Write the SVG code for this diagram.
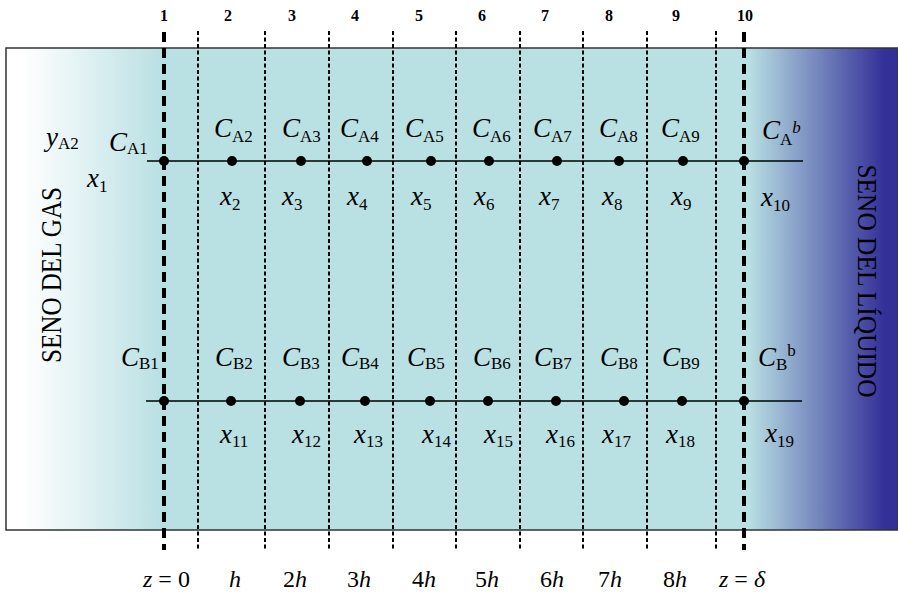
<svg xmlns="http://www.w3.org/2000/svg" width="898" height="595" viewBox="0 0 898 595">
<defs>
<linearGradient id="bg" gradientUnits="userSpaceOnUse" x1="6" y1="0" x2="898" y2="0">
<stop offset="0" stop-color="#ffffff"/>
<stop offset="0.02" stop-color="#ffffff"/>
<stop offset="0.175" stop-color="#b9e0e3"/>
<stop offset="0.832" stop-color="#b9e0e3"/>
<stop offset="0.985" stop-color="#333098"/>
<stop offset="1" stop-color="#333098"/>
</linearGradient>
</defs>
<style>
text{font-family:"Liberation Serif","Times New Roman",serif;fill:#000}
.i{font-style:italic}
.L{font-size:27px}
.s{font-size:17px;font-style:normal}
.num{font-size:16px;font-weight:bold;text-anchor:middle}
.bot{font-size:24px}
.big{font-size:27px}
.thick{stroke:#000;stroke-width:4;stroke-dasharray:10 6;fill:none}
.thin{stroke:#000;stroke-width:2;stroke-dasharray:4 2.5;fill:none}
.h{stroke:#000;stroke-width:1.3;fill:none}
.dot{fill:#000}
</style>
<rect x="6" y="48" width="892" height="482" fill="url(#bg)" stroke="#333" stroke-width="1.5"/>

<g id="vtext">
<text class="big" transform="translate(61,275) rotate(-90) scale(1,1.1)" text-anchor="middle" textLength="176" lengthAdjust="spacingAndGlyphs">SENO DEL GAS</text>
<text class="big" transform="translate(858,281) rotate(90) scale(1,1.05)" text-anchor="middle" textLength="233" lengthAdjust="spacingAndGlyphs">SENO DEL LÍQUIDO</text>
</g>

<g id="gridlines">
<line class="thick" x1="164" y1="32" x2="164" y2="550"/>
<line class="thick" x1="744" y1="32" x2="744" y2="550"/>
<line class="thin" x1="198" y1="31" x2="198" y2="551"/>
<line class="thin" x1="265" y1="31" x2="265" y2="551"/>
<line class="thin" x1="329" y1="31" x2="329" y2="551"/>
<line class="thin" x1="393" y1="31" x2="393" y2="551"/>
<line class="thin" x1="456" y1="31" x2="456" y2="551"/>
<line class="thin" x1="520" y1="31" x2="520" y2="551"/>
<line class="thin" x1="583" y1="31" x2="583" y2="551"/>
<line class="thin" x1="647" y1="31" x2="647" y2="551"/>
<line class="thin" x1="716" y1="31" x2="716" y2="551"/>
</g>

<g id="numbers">
<text class="num" x="164" y="21">1</text>
<text class="num" x="228" y="21">2</text>
<text class="num" x="292" y="21">3</text>
<text class="num" x="355" y="21">4</text>
<text class="num" x="419" y="21">5</text>
<text class="num" x="482" y="21">6</text>
<text class="num" x="545" y="21">7</text>
<text class="num" x="609" y="21">8</text>
<text class="num" x="676" y="21">9</text>
<text class="num" x="745" y="21">10</text>
</g>

<g id="connectors">
<line class="h" x1="147" y1="161" x2="803" y2="161"/>
<line class="h" x1="146" y1="401" x2="802" y2="401"/>
</g>

<g id="gas">
<text class="L" x="46" y="146"><tspan class="i">y</tspan><tspan class="s" dy="3">A2</tspan></text>
<text class="L" x="87" y="187"><tspan class="i">x</tspan><tspan class="s" dy="5">1</tspan></text>
</g>

<g id="nA1"><circle class="dot" cx="164" cy="161" r="5"/>
<text class="L" x="109" y="151"><tspan class="i">C</tspan><tspan class="s" dy="3">A1</tspan></text></g>
<g id="nA2"><circle class="dot" cx="232" cy="161" r="5"/>
<text class="L" x="214" y="137"><tspan class="i">C</tspan><tspan class="s" dy="5">A2</tspan></text>
<text class="L" x="220" y="205"><tspan class="i">x</tspan><tspan class="s" dy="5">2</tspan></text></g>
<g id="nA3"><circle class="dot" cx="301" cy="161" r="5"/>
<text class="L" x="282" y="137"><tspan class="i">C</tspan><tspan class="s" dy="5">A3</tspan></text>
<text class="L" x="282" y="205"><tspan class="i">x</tspan><tspan class="s" dy="5">3</tspan></text></g>
<g id="nA4"><circle class="dot" cx="367" cy="161" r="5"/>
<text class="L" x="340" y="137"><tspan class="i">C</tspan><tspan class="s" dy="5">A4</tspan></text>
<text class="L" x="347" y="205"><tspan class="i">x</tspan><tspan class="s" dy="5">4</tspan></text></g>
<g id="nA5"><circle class="dot" cx="431" cy="161" r="5"/>
<text class="L" x="405" y="137"><tspan class="i">C</tspan><tspan class="s" dy="5">A5</tspan></text>
<text class="L" x="411" y="205"><tspan class="i">x</tspan><tspan class="s" dy="5">5</tspan></text></g>
<g id="nA6"><circle class="dot" cx="489" cy="161" r="5"/>
<text class="L" x="472" y="137"><tspan class="i">C</tspan><tspan class="s" dy="5">A6</tspan></text>
<text class="L" x="474" y="205"><tspan class="i">x</tspan><tspan class="s" dy="5">6</tspan></text></g>
<g id="nA7"><circle class="dot" cx="557" cy="161" r="5"/>
<text class="L" x="533" y="137"><tspan class="i">C</tspan><tspan class="s" dy="5">A7</tspan></text>
<text class="L" x="539" y="205"><tspan class="i">x</tspan><tspan class="s" dy="5">7</tspan></text></g>
<g id="nA8"><circle class="dot" cx="619" cy="161" r="5"/>
<text class="L" x="599" y="137"><tspan class="i">C</tspan><tspan class="s" dy="5">A8</tspan></text>
<text class="L" x="602" y="205"><tspan class="i">x</tspan><tspan class="s" dy="5">8</tspan></text></g>
<g id="nA9"><circle class="dot" cx="683" cy="161" r="5"/>
<text class="L" x="661" y="137"><tspan class="i">C</tspan><tspan class="s" dy="5">A9</tspan></text>
<text class="L" x="671" y="205"><tspan class="i">x</tspan><tspan class="s" dy="5">9</tspan></text></g>
<g id="nA10"><circle class="dot" cx="744" cy="161" r="5"/>
<text class="L" x="762" y="139"><tspan class="i">C</tspan><tspan class="s" dy="6">A</tspan><tspan class="s" dy="-12" style="font-style:italic">b</tspan></text>
<text class="L" x="761" y="206"><tspan class="i">x</tspan><tspan class="s" dy="5">10</tspan></text></g>

<g id="nB1"><circle class="dot" cx="164" cy="401" r="5"/>
<text class="L" x="121" y="366"><tspan class="i">C</tspan><tspan class="s" dy="3">B1</tspan></text></g>
<g id="nB2"><circle class="dot" cx="231" cy="401" r="5"/>
<text class="L" x="215" y="366"><tspan class="i">C</tspan><tspan class="s" dy="3">B2</tspan></text>
<text class="L" x="220" y="443"><tspan class="i">x</tspan><tspan class="s" dy="4">11</tspan></text></g>
<g id="nB3"><circle class="dot" cx="300" cy="401" r="5"/>
<text class="L" x="282" y="366"><tspan class="i">C</tspan><tspan class="s" dy="3">B3</tspan></text>
<text class="L" x="292" y="443"><tspan class="i">x</tspan><tspan class="s" dy="4">12</tspan></text></g>
<g id="nB4"><circle class="dot" cx="365" cy="401" r="5"/>
<text class="L" x="341" y="366"><tspan class="i">C</tspan><tspan class="s" dy="3">B4</tspan></text>
<text class="L" x="354" y="443"><tspan class="i">x</tspan><tspan class="s" dy="4">13</tspan></text></g>
<g id="nB5"><circle class="dot" cx="430" cy="401" r="5"/>
<text class="L" x="407" y="366"><tspan class="i">C</tspan><tspan class="s" dy="3">B5</tspan></text>
<text class="L" x="422" y="443"><tspan class="i">x</tspan><tspan class="s" dy="4">14</tspan></text></g>
<g id="nB6"><circle class="dot" cx="488" cy="401" r="5"/>
<text class="L" x="473" y="366"><tspan class="i">C</tspan><tspan class="s" dy="3">B6</tspan></text>
<text class="L" x="484" y="443"><tspan class="i">x</tspan><tspan class="s" dy="4">15</tspan></text></g>
<g id="nB7"><circle class="dot" cx="556" cy="401" r="5"/>
<text class="L" x="534" y="366"><tspan class="i">C</tspan><tspan class="s" dy="3">B7</tspan></text>
<text class="L" x="546" y="443"><tspan class="i">x</tspan><tspan class="s" dy="4">16</tspan></text></g>
<g id="nB8"><circle class="dot" cx="624" cy="401" r="5"/>
<text class="L" x="600" y="366"><tspan class="i">C</tspan><tspan class="s" dy="3">B8</tspan></text>
<text class="L" x="602" y="443"><tspan class="i">x</tspan><tspan class="s" dy="4">17</tspan></text></g>
<g id="nB9"><circle class="dot" cx="682" cy="401" r="5"/>
<text class="L" x="662" y="366"><tspan class="i">C</tspan><tspan class="s" dy="3">B9</tspan></text>
<text class="L" x="666" y="443"><tspan class="i">x</tspan><tspan class="s" dy="4">18</tspan></text></g>
<g id="nB10"><circle class="dot" cx="744" cy="401" r="5"/>
<text class="L" x="758" y="366"><tspan class="i">C</tspan><tspan class="s" dy="4">B</tspan><tspan class="s" dy="-14">b</tspan></text>
<text class="L" x="765" y="442"><tspan class="i">x</tspan><tspan class="s" dy="5">19</tspan></text></g>

<g id="axis">
<text class="bot" x="143" y="587"><tspan class="i">z</tspan> = 0</text>
<text class="bot i" x="229" y="587">h</text>
<text class="bot" x="283" y="587">2<tspan class="i">h</tspan></text>
<text class="bot" x="347" y="587">3<tspan class="i">h</tspan></text>
<text class="bot" x="412" y="587">4<tspan class="i">h</tspan></text>
<text class="bot" x="475" y="587">5<tspan class="i">h</tspan></text>
<text class="bot" x="540" y="587">6<tspan class="i">h</tspan></text>
<text class="bot" x="598" y="587">7<tspan class="i">h</tspan></text>
<text class="bot" x="663" y="587">8<tspan class="i">h</tspan></text>
<text class="bot" x="719" y="587"><tspan class="i">z</tspan> = <tspan class="i">δ</tspan></text>
</g>
</svg>
